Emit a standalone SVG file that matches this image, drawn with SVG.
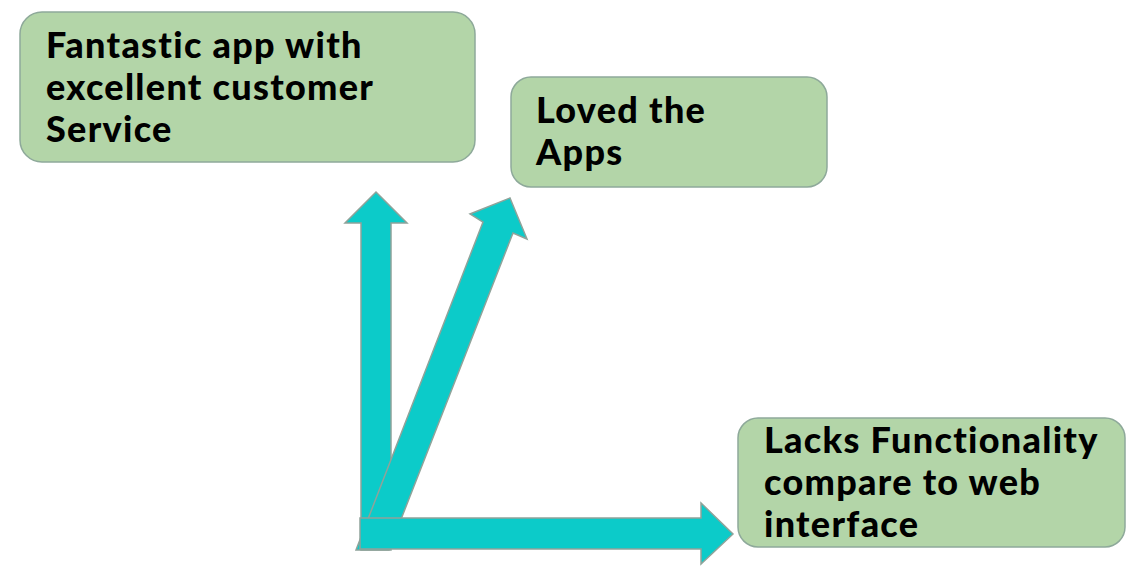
<svg xmlns="http://www.w3.org/2000/svg" width="1140" height="584" viewBox="0 0 1140 584">
<style>
.box{fill:#b3d5a8;stroke:#8ea99a;stroke-width:1.5}
.t{font-family:Lato,"Noto Sans",sans-serif;font-weight:900;font-size:36px;letter-spacing:1.3px;fill:#000}
.arr{fill:#0ccbc9;stroke:#8fa39a;stroke-width:1.5;stroke-linejoin:miter}
</style>
<rect width="1140" height="584" fill="#fff"/>
<g id="connectors">
<polygon class="arr" points="376,192 407,223 391,223 391,550 361,550 361,223 345,223"/>
<polygon class="arr" points="510,198 527,239 513,233 389,550 356,550 483,222 470,214"/>
<polygon class="arr" points="733,534 701,564 701,549 360,549 360,518 701,518 701,503"/>
</g>
<g id="node1">
<rect class="box" x="20" y="12" width="455" height="150" rx="22"/>
<text class="t"><tspan x="46" y="58">Fantastic app with</tspan><tspan x="46" y="100">excellent customer</tspan><tspan x="46" y="142">Service</tspan></text>
</g>
<g id="node2">
<rect class="box" x="511" y="77" width="316" height="110" rx="20"/>
<text class="t"><tspan x="536" y="123">Loved the</tspan><tspan x="536" y="165">Apps</tspan></text>
</g>
<g id="node3">
<rect class="box" x="738" y="418" width="387" height="129" rx="20"/>
<text class="t"><tspan x="764" y="453">Lacks Functionality</tspan><tspan x="764" y="495">compare to web</tspan><tspan x="764" y="537">interface</tspan></text>
</g>
</svg>
